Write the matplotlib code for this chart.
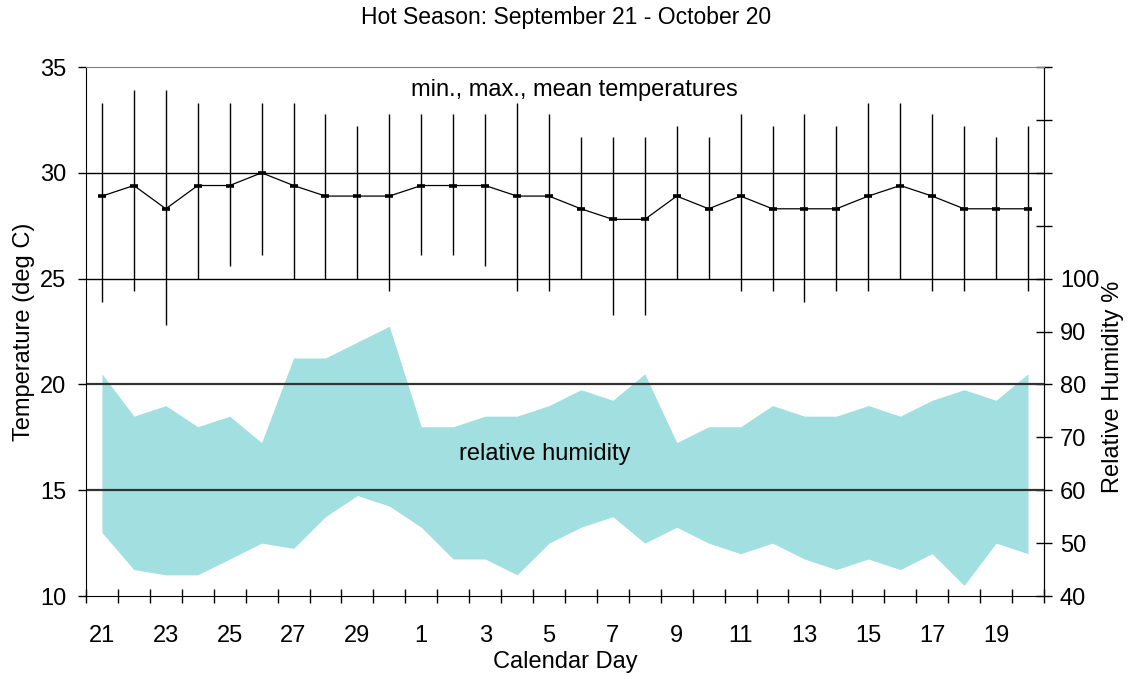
import numpy as np
import matplotlib
matplotlib.use('Agg')
import matplotlib.pyplot as plt
from matplotlib.ticker import FixedLocator, NullFormatter

plt.rcParams['font.family'] = ['Liberation Sans', 'DejaVu Sans']

# calendar days, Sep 21 - Oct 20
days = ['21', '22', '23', '24', '25', '26', '27', '28', '29', '30',
        '1', '2', '3', '4', '5', '6', '7', '8', '9', '10',
        '11', '12', '13', '14', '15', '16', '17', '18', '19', '20']

# temperatures (deg C)
t_max = [33.3, 33.9, 33.9, 33.3, 33.3, 33.3, 33.3, 32.8, 32.2, 32.8,
         32.8, 32.8, 32.8, 33.3, 32.8, 31.7, 31.7, 31.7, 32.2, 31.7,
         32.8, 32.2, 32.8, 32.2, 33.3, 33.3, 32.8, 32.2, 31.7, 32.2]
t_min = [23.9, 24.4, 22.8, 25.0, 25.6, 26.1, 25.0, 25.0, 25.0, 24.4,
         26.1, 26.1, 25.6, 24.4, 24.4, 25.0, 23.3, 23.3, 25.0, 25.0,
         24.4, 24.4, 23.9, 24.4, 24.4, 25.0, 24.4, 24.4, 25.0, 24.4]
t_mean = [28.9, 29.4, 28.3, 29.4, 29.4, 30.0, 29.4, 28.9, 28.9, 28.9,
          29.4, 29.4, 29.4, 28.9, 28.9, 28.3, 27.8, 27.8, 28.9, 28.3,
          28.9, 28.3, 28.3, 28.3, 28.9, 29.4, 28.9, 28.3, 28.3, 28.3]

# relative humidity (%)
rh_max = [82, 74, 76, 72, 74, 69, 85, 85, 88, 91,
          72, 72, 74, 74, 76, 79, 77, 82, 69, 72,
          72, 76, 74, 74, 76, 74, 77, 79, 77, 82]
rh_min = [52, 45, 44, 44, 47, 50, 49, 55, 59, 57,
          53, 47, 47, 44, 50, 53, 55, 50, 53, 50,
          48, 50, 47, 45, 47, 45, 48, 42, 50, 48]

x = np.arange(len(days))
fs = 17

fig = plt.figure(figsize=(11.33, 6.79), dpi=100)
ax = fig.add_axes([0.0759, 0.1222, 0.8455, 0.7791])
ax2 = ax.twinx()

# humidity band on the right axis, drawn underneath
ax2.fill_between(x, rh_min, rh_max, color='#a2dfe0', linewidth=0)
ax2.set_ylim(40, 140)
ax2.set_yticks(np.arange(40, 141, 10))
ax2.set_yticklabels([str(v) if v <= 100 else '' for v in range(40, 141, 10)])
ax2.tick_params(axis='y', direction='inout', length=11, width=1, labelsize=fs, pad=6)

ax.set_zorder(ax2.get_zorder() + 1)
ax.patch.set_visible(False)

# horizontal reference lines
for yv in [25, 30]:
    ax.axhline(yv, color='black', lw=1.0, zorder=1)
for yv in [15, 20]:
    ax.axhline(yv, color='#333333', lw=1.6, zorder=1)

# min/max bars and mean line
ax.vlines(x, t_min, t_max, color='black', lw=1.0, zorder=2)
ax.plot(x, t_mean, color='black', lw=0.9, marker='_', markersize=6,
        markeredgewidth=2.6, zorder=3)

ax.set_xlim(-0.5, len(days) - 0.5)
ax.set_ylim(10, 35)
ax.set_yticks(np.arange(10, 36, 5))
ax.tick_params(axis='y', direction='out', length=6, width=1, labelsize=fs, pad=8)

ax.set_xticks(x[::2])
ax.set_xticklabels(days[::2])
ax.xaxis.set_minor_locator(FixedLocator(np.arange(-0.5, len(days), 1)))
ax.xaxis.set_minor_formatter(NullFormatter())
ax.tick_params(axis='x', which='major', length=0, labelsize=fs, pad=21)
ax.tick_params(axis='x', which='minor', direction='inout', length=10, width=1)

ax.spines['top'].set_color('#808080')
ax2.spines['top'].set_visible(False)
for sp in ['left', 'right', 'bottom']:
    ax2.spines[sp].set_visible(sp == 'right')

ax.set_xlabel('Calendar Day', fontsize=fs, labelpad=3)
ax.set_ylabel('Temperature (deg C)', fontsize=fs, labelpad=4)
fig.text(0.9823, 0.43, 'Relative Humidity %', rotation=90, ha='center',
         va='center', fontsize=fs)
fig.text(0.5, 0.9735, 'Hot Season: September 21 - October 20', ha='center',
         va='center', fontsize=16.5)

ax.text(0.51, 0.956, 'min., max., mean temperatures', transform=ax.transAxes,
        ha='center', va='center', fontsize=fs)
ax.text(0.479, 0.269, 'relative humidity', transform=ax.transAxes,
        ha='center', va='center', fontsize=fs)

fig.savefig('out.png', dpi=100)
